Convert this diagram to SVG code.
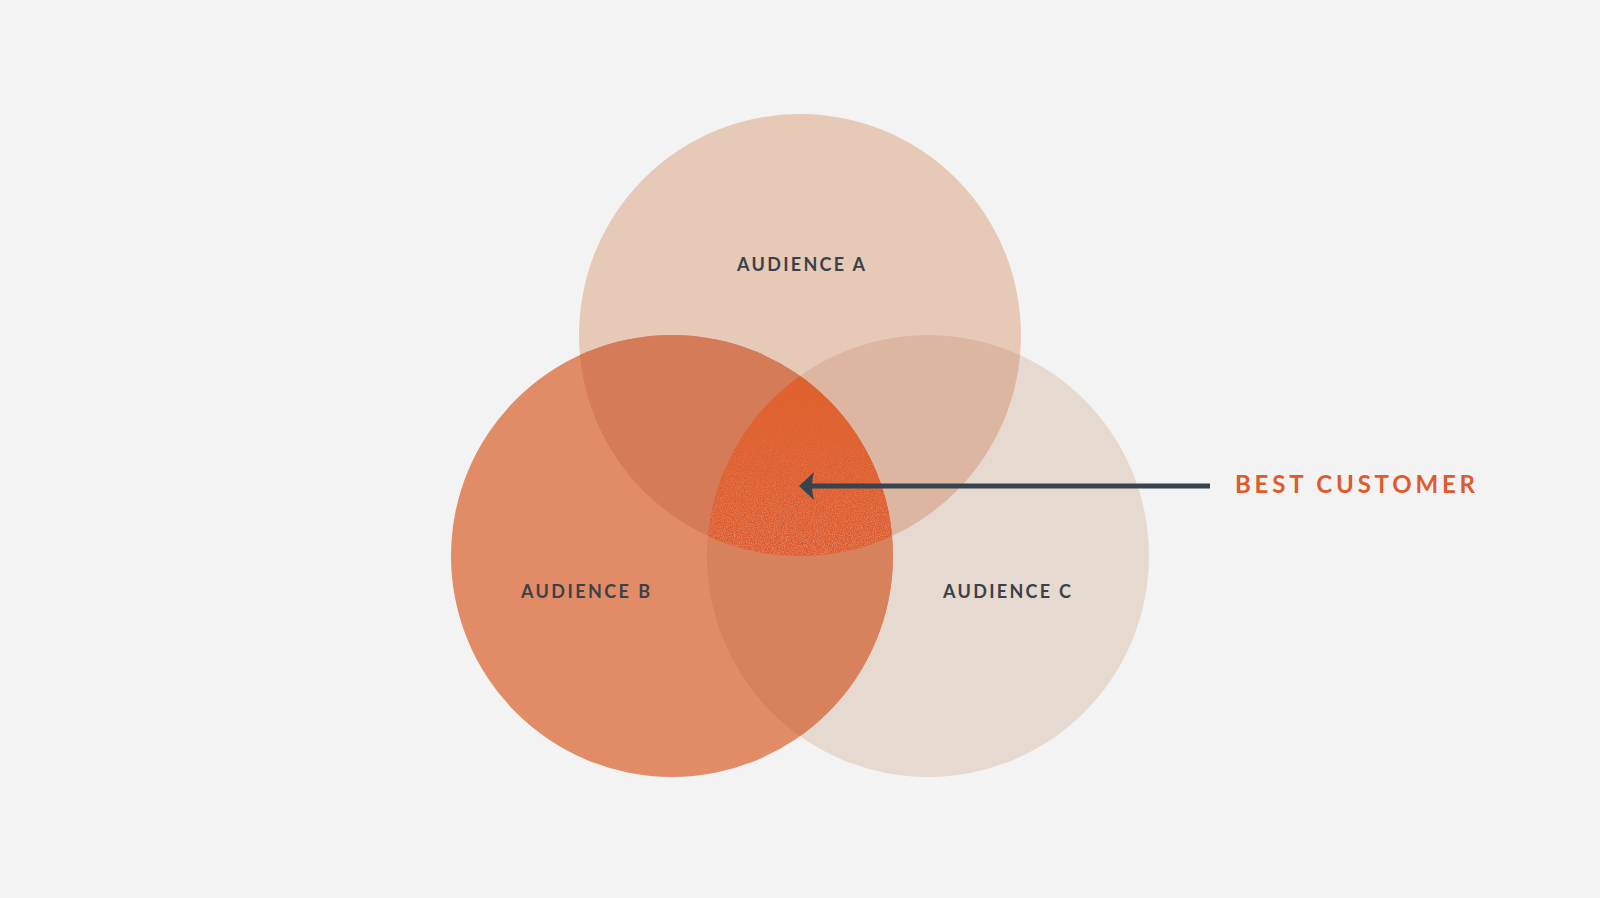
<svg xmlns="http://www.w3.org/2000/svg" width="1600" height="898" viewBox="0 0 1600 898">
  <style>
    .lbl { font-family: Lato, "Open Sans", "Liberation Sans", sans-serif; font-weight: 700; font-size: 18px; fill: #3a4149; }
    .best { font-family: Lato, "Open Sans", "Liberation Sans", sans-serif; font-weight: 700; font-size: 24px; fill: #e05a2b; }
    .arrow { stroke: #37444f; stroke-width: 5; fill: none; }
  </style>
  <defs>
    <clipPath id="clipA"><circle cx="800" cy="335" r="221"/></clipPath>
    <clipPath id="clipB"><circle cx="672" cy="556" r="221"/></clipPath>
    <clipPath id="clipC"><circle cx="928" cy="556" r="221"/></clipPath>
    <linearGradient id="centerGrad" x1="0" y1="0" x2="0" y2="1">
      <stop offset="0" stop-color="#e0642f"/>
      <stop offset="1" stop-color="#dc5a2c"/>
    </linearGradient>
    <linearGradient id="grainFade" x1="0" y1="0" x2="0" y2="1">
      <stop offset="0.15" stop-color="#fff" stop-opacity="0"/>
      <stop offset="1" stop-color="#fff" stop-opacity="1"/>
    </linearGradient>
    <mask id="grainMask">
      <rect x="680" y="360" width="240" height="210" fill="url(#grainFade)"/>
    </mask>
    <filter id="grain" x="0" y="0" width="100%" height="100%">
      <feTurbulence type="fractalNoise" baseFrequency="0.9" numOctaves="2" seed="3" result="n"/>
      <feColorMatrix in="n" type="matrix" values="0 0 0 0 0.8  0 0 0 0 0.22  0 0 0 0 0.12  4 0 0 0 -1.6"/>
    </filter>
    <marker id="head" viewBox="0 0 16 28" refX="12" refY="14" markerWidth="16" markerHeight="28" markerUnits="userSpaceOnUse" orient="auto">
      <path d="M15,14 L0,0 Q4,14 0,28 Z" fill="#37444f"/>
    </marker>
  </defs>

  <rect width="1600" height="898" fill="#f2f3f2"/>

  <g id="audience-a">
    <circle cx="800" cy="335" r="221" fill="#e6cab7"/>
  </g>
  <g id="audience-c">
    <circle cx="928" cy="556" r="221" fill="#e6d9cf"/>
  </g>
  <g id="audience-b">
    <circle cx="672" cy="556" r="221" fill="#e18c67"/>
  </g>

  <g id="overlaps">
    <circle cx="928" cy="556" r="221" fill="#dcb6a0" clip-path="url(#clipA)"/>
    <circle cx="928" cy="556" r="221" fill="#d8815d" clip-path="url(#clipB)"/>
    <circle cx="672" cy="556" r="221" fill="#d57b57" clip-path="url(#clipA)"/>
  </g>

  <g id="best-customer-zone" clip-path="url(#clipA)">
    <g clip-path="url(#clipB)">
      <g clip-path="url(#clipC)">
        <rect x="680" y="360" width="240" height="210" fill="url(#centerGrad)"/>
        <rect x="680" y="360" width="240" height="210" filter="url(#grain)" mask="url(#grainMask)"/>
      </g>
    </g>
  </g>

  <g id="connectors">
    <line class="arrow" x1="1210" y1="486" x2="802" y2="486" marker-end="url(#head)"/>
  </g>

  <g id="labels">
    <text class="lbl" x="801" y="271" text-anchor="middle" textLength="128" lengthAdjust="spacing">AUDIENCE A</text>
    <text class="lbl" x="585.5" y="598" text-anchor="middle" textLength="129" lengthAdjust="spacing">AUDIENCE B</text>
    <text class="lbl" x="1007" y="598" text-anchor="middle" textLength="128" lengthAdjust="spacing">AUDIENCE C</text>
    <text class="best" x="1235" y="493" textLength="240" lengthAdjust="spacing">BEST CUSTOMER</text>
  </g>
</svg>
